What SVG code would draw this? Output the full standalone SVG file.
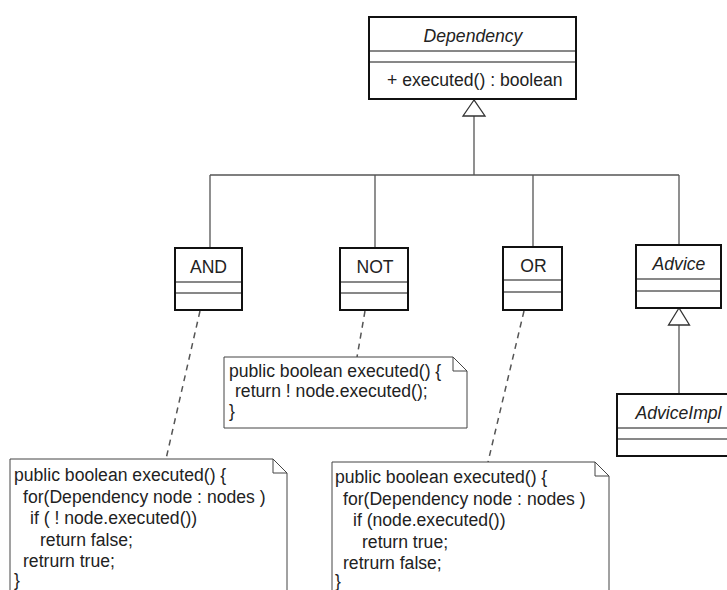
<svg xmlns="http://www.w3.org/2000/svg" width="727" height="590" viewBox="0 0 727 590">
  <style>
    text { font-family: "Liberation Sans", Arial, sans-serif; font-size: 17.6px; fill: #222; }
    .title { text-anchor: middle; }
    .abstract { font-style: italic; }
    .box { fill: #fff; stroke: #111; stroke-width: 2; }
    .sep { stroke: #111; stroke-width: 1; }
    .link { fill: none; stroke: #555; stroke-width: 1.3; }
    .anchor { fill: none; stroke: #555; stroke-width: 1.5; stroke-dasharray: 6 5; }
    .note { fill: #fff; stroke: #444; stroke-width: 1; }
    .fold { fill: none; stroke: #444; stroke-width: 1; }
    .hollow { fill: #fff; stroke: #333; stroke-width: 1.3; }
  </style>

  <!-- generalization tree and note anchors -->
  <g id="connectors">
    <path class="link" d="M474 116 V175 M210 175 H679 M210 175 V248 M375 175 V248 M533 175 V247 M679 175 V245"/>
    <polygon class="hollow" points="474,100 463,116 485,116"/>
    <path class="link" d="M679 325 V394"/>
    <polygon class="hollow" points="679,308 668.5,325 689.5,325"/>
    <path class="anchor" d="M200 311 L166 459"/>
    <path class="anchor" d="M365 311 L357 357"/>
    <path class="anchor" d="M524 311 L488 462"/>
  </g>

  <g id="dependency">
    <rect class="box" x="369" y="17" width="207" height="82"/>
    <path class="sep" d="M369 51 H576 M369 62 H576"/>
    <text class="title abstract" x="473" y="42">Dependency</text>
    <text x="387" y="86">+ executed() : boolean</text>
  </g>

  <g id="and">
    <rect class="box" x="175" y="248" width="67" height="62"/>
    <path class="sep" d="M175 282 H242 M175 293 H242"/>
    <text class="title" x="208.5" y="273">AND</text>
  </g>

  <g id="not">
    <rect class="box" x="340" y="248" width="68" height="62"/>
    <path class="sep" d="M340 282 H408 M340 293 H408"/>
    <text class="title" x="375" y="273">NOT</text>
  </g>

  <g id="or">
    <rect class="box" x="503" y="247" width="59" height="63"/>
    <path class="sep" d="M503 280 H562 M503 292 H562"/>
    <text class="title" x="533.5" y="272">OR</text>
  </g>

  <g id="advice">
    <rect class="box" x="636" y="245" width="85" height="63"/>
    <path class="sep" d="M636 279 H721 M636 291 H721"/>
    <text class="title abstract" x="679" y="270">Advice</text>
  </g>

  <g id="advice-impl">
    <rect class="box" x="617" y="394" width="123" height="62"/>
    <path class="sep" d="M617 428 H740 M617 439 H740"/>
    <text class="title abstract" x="678.5" y="419">AdviceImpl</text>
  </g>

  <g id="note-not">
    <path class="note" d="M224 357 H453 L467 371 V428 H224 Z"/>
    <path class="fold" d="M453 357 V371 H467"/>
    <text x="229" y="377">public boolean executed() {</text>
    <text x="235" y="397">return ! node.executed();</text>
    <text x="229" y="417">}</text>
  </g>

  <g id="note-and">
    <path class="note" d="M10 459 H273 L287 473 V600 H10 Z"/>
    <path class="fold" d="M273 459 V473 H287"/>
    <text x="14" y="481">public boolean executed() {</text>
    <text x="23" y="502.5">for(Dependency node : nodes )</text>
    <text x="30" y="524">if ( ! node.executed())</text>
    <text x="40" y="545.5">return false;</text>
    <text x="23" y="567">retrurn true;</text>
    <text x="14" y="586">}</text>
  </g>

  <g id="note-or">
    <path class="note" d="M332 462 H595 L609 476 V600 H332 Z"/>
    <path class="fold" d="M595 462 V476 H609"/>
    <text x="335" y="483">public boolean executed() {</text>
    <text x="343" y="504.5">for(Dependency node : nodes )</text>
    <text x="353" y="526">if (node.executed())</text>
    <text x="362" y="547.5">return true;</text>
    <text x="343" y="569">retrurn false;</text>
    <text x="335" y="587">}</text>
  </g>
</svg>
